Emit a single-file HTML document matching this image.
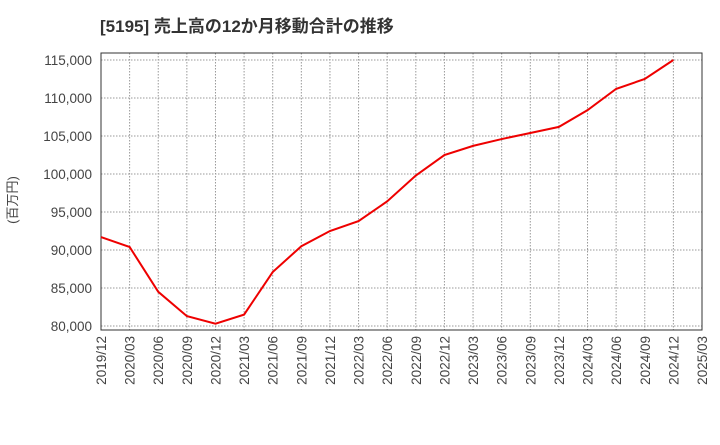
<!DOCTYPE html>
<html><head><meta charset="utf-8"><style>
body{margin:0;background:#fff;font-family:"Liberation Sans","Noto Sans CJK JP",sans-serif}
</style></head><body>
<svg width="720" height="440" xmlns="http://www.w3.org/2000/svg">
<text x="100" y="32" font-size="17" font-weight="bold" fill="#333">[5195]  売上高の12か月移動合計の推移</text>
<text x="17" y="200" font-size="13" fill="#444" transform="rotate(-90 17 200)" text-anchor="middle">(百万円)</text>
<g id="grid"></g>
<rect x="101" y="53" width="601" height="277" fill="none" stroke="#333"/>
<g id="ylab"></g><g id="xlab"></g>
<polyline id="line" fill="none" stroke="#e00" stroke-width="2"/>
</svg>
<script>
const categories=["2019/12","2020/03","2020/06","2020/09","2020/12","2021/03","2021/06","2021/09","2021/12","2022/03","2022/06","2022/09","2022/12","2023/03","2023/06","2023/09","2023/12","2024/03","2024/06","2024/09","2024/12"];
const values=[91700,90400,84500,81300,80300,81500,87100,90500,92500,93800,96400,99800,102500,103700,104600,105400,106200,108400,111200,112500,115000];
const xTicks=["2019/12","2020/03","2020/06","2020/09","2020/12","2021/03","2021/06","2021/09","2021/12","2022/03","2022/06","2022/09","2022/12","2023/03","2023/06","2023/09","2023/12","2024/03","2024/06","2024/09","2024/12","2025/03"];
const yTicks=[80000,85000,90000,95000,100000,105000,110000,115000];
const ns="http://www.w3.org/2000/svg";
const x0=101,x1=702,y0=326,y1=60;
const xs=i=>x0+i*(x1-x0)/(xTicks.length-1);
const ys=v=>y0-(v-80000)*(y0-y1)/35000;
const grid=document.getElementById('grid'),yl=document.getElementById('ylab'),xl=document.getElementById('xlab');
function mk(t,a,p){const e=document.createElementNS(ns,t);for(const k in a)e.setAttribute(k,a[k]);p.appendChild(e);return e;}
yTicks.forEach(v=>{
 const l=mk('line',{x1:x0,x2:x1,y1:ys(v),y2:ys(v),stroke:'#999','stroke-dasharray':'1.5,1.5'},grid);
 
 
 const t=mk('text',{x:92,y:ys(v)+5,'text-anchor':'end','font-size':13.5,fill:'#444'},yl);
 t.textContent=v.toLocaleString('en-US');
 
 
});
xTicks.forEach((c,i)=>{
 const l=mk('line',{x1:xs(i),x2:xs(i),y1:53,y2:330,stroke:'#999','stroke-dasharray':'1.5,1.5'},grid);
 
 
 const t=mk('text',{x:xs(i)+5,y:336,'text-anchor':'end','font-size':13.5,fill:'#444',transform:`rotate(-90 ${xs(i)+5} 336)`},xl);
 t.textContent=c;
 
 
});
document.getElementById('line').setAttribute('points',values.map((v,i)=>xs(i)+','+ys(v)).join(' '));
</script>
</body></html>
